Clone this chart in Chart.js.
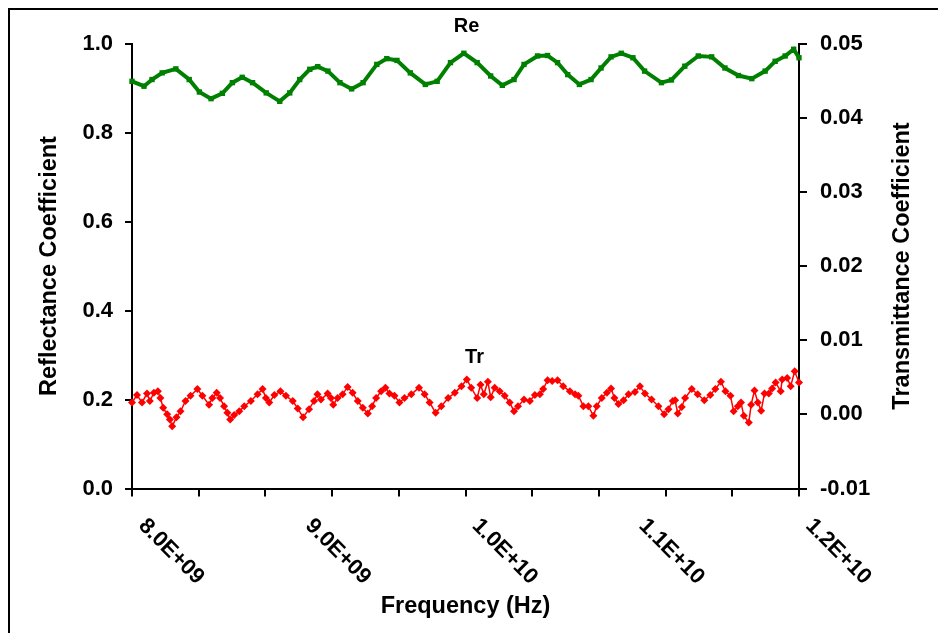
<!DOCTYPE html>
<html>
<head>
<meta charset="utf-8">
<title>Reflectance / Transmittance</title>
<script src="https://cdn.jsdelivr.net/npm/chart.js@4.4.1/dist/chart.umd.min.js"></script>
<style>
  html, body { margin: 0; padding: 0; background: #fff; }
  #wrap { position: relative; width: 938px; height: 633px; overflow: hidden; }
  #frame { position: absolute; left: 8px; top: 8px; width: 1000px; height: 700px; border-left: 2px solid #000; border-top: 2px solid #000; }
  #chart { position: absolute; left: 0; top: 0; }
</style>
</head>
<body>
<div id="wrap">
  <div id="frame"></div>
  <canvas id="chart" width="938" height="633"></canvas>
</div>
<script>
// Frequencies are in GHz, converted to Hz when the datasets are built
const reFreq = [
  8.000, 8.072, 8.120, 8.181, 8.263, 8.343, 8.404, 8.474, 8.542, 8.602,
  8.661, 8.723, 8.805, 8.886, 8.946, 9.006, 9.066, 9.114, 9.175, 9.247,
  9.317, 9.386, 9.468, 9.528, 9.589, 9.669, 9.759, 9.830, 9.910, 9.990,
  10.070, 10.151, 10.221, 10.291, 10.351, 10.432, 10.492, 10.552, 10.613, 10.683,
  10.753, 10.813, 10.873, 10.934, 11.004, 11.074, 11.175, 11.235, 11.315, 11.396,
  11.476, 11.556, 11.637, 11.717, 11.797, 11.857, 11.917, 11.968, 12.000
];
const reValues = [
  0.915, 0.904, 0.919, 0.934, 0.943, 0.919, 0.891, 0.876, 0.888, 0.912,
  0.924, 0.912, 0.889, 0.870, 0.889, 0.919, 0.942, 0.948, 0.938, 0.912,
  0.898, 0.912, 0.953, 0.966, 0.962, 0.934, 0.908, 0.915, 0.957, 0.978,
  0.957, 0.927, 0.906, 0.919, 0.953, 0.972, 0.973, 0.957, 0.930, 0.908,
  0.919, 0.945, 0.970, 0.978, 0.968, 0.938, 0.912, 0.918, 0.949, 0.972,
  0.970, 0.945, 0.928, 0.921, 0.938, 0.960, 0.972, 0.987, 0.968
];

const trFreq = [
  8.000, 8.030, 8.060, 8.090, 8.107, 8.131, 8.155, 8.170, 8.187, 8.211,
  8.227, 8.241, 8.267, 8.291, 8.321, 8.351, 8.392, 8.422, 8.462, 8.482,
  8.508, 8.528, 8.552, 8.572, 8.589, 8.613, 8.643, 8.673, 8.713, 8.753,
  8.783, 8.803, 8.823, 8.854, 8.890, 8.923, 8.964, 8.994, 9.026, 9.062,
  9.092, 9.112, 9.133, 9.173, 9.193, 9.207, 9.233, 9.263, 9.293, 9.323,
  9.354, 9.384, 9.414, 9.440, 9.464, 9.494, 9.520, 9.544, 9.574, 9.604,
  9.634, 9.675, 9.721, 9.755, 9.785, 9.821, 9.855, 9.896, 9.936, 9.976,
  10.008, 10.034, 10.070, 10.090, 10.110, 10.134, 10.151, 10.175, 10.205, 10.235,
  10.265, 10.291, 10.315, 10.351, 10.386, 10.416, 10.446, 10.466, 10.492, 10.520,
  10.552, 10.586, 10.626, 10.657, 10.677, 10.707, 10.737, 10.767, 10.787, 10.817,
  10.848, 10.873, 10.893, 10.917, 10.948, 10.978, 11.016, 11.046, 11.076, 11.116,
  11.157, 11.191, 11.217, 11.243, 11.257, 11.273, 11.297, 11.317, 11.357, 11.392,
  11.432, 11.468, 11.498, 11.532, 11.559, 11.589, 11.608, 11.633, 11.652, 11.669,
  11.699, 11.713, 11.733, 11.753, 11.773, 11.793, 11.819, 11.839, 11.860, 11.890,
  11.899, 11.929, 11.950, 11.974, 12.000
];
const trValues = [
  0.0016, 0.0026, 0.0016, 0.0028, 0.0018, 0.0029, 0.0031, 0.0022, 0.0009, 0.0000,
  -0.0007, -0.0016, -0.0004, 0.0004, 0.0018, 0.0025, 0.0034, 0.0025, 0.0013, 0.0022,
  0.0029, 0.0022, 0.0011, 0.0002, -0.0007, -0.0001, 0.0004, 0.0011, 0.0018, 0.0027,
  0.0034, 0.0022, 0.0016, 0.0026, 0.0031, 0.0025, 0.0018, 0.0008, -0.0004, 0.0007,
  0.0018, 0.0027, 0.0020, 0.0028, 0.0022, 0.0013, 0.0022, 0.0027, 0.0037, 0.0029,
  0.0018, 0.0009, 0.0001, 0.0011, 0.0022, 0.0031, 0.0036, 0.0028, 0.0025, 0.0016,
  0.0022, 0.0027, 0.0036, 0.0027, 0.0016, 0.0002, 0.0011, 0.0022, 0.0029, 0.0038,
  0.0047, 0.0036, 0.0022, 0.0040, 0.0027, 0.0044, 0.0023, 0.0036, 0.0031, 0.0025,
  0.0016, 0.0004, 0.0011, 0.0020, 0.0018, 0.0026, 0.0027, 0.0034, 0.0046, 0.0045,
  0.0046, 0.0038, 0.0031, 0.0027, 0.0025, 0.0011, 0.0011, -0.0002, 0.0011, 0.0022,
  0.0029, 0.0035, 0.0022, 0.0014, 0.0019, 0.0027, 0.0030, 0.0038, 0.0028, 0.0020,
  0.0011, 0.0000, 0.0007, 0.0018, 0.0019, 0.0001, 0.0010, 0.0022, 0.0034, 0.0027,
  0.0019, 0.0026, 0.0034, 0.0044, 0.0031, 0.0025, 0.0004, 0.0011, 0.0016, -0.0002,
  -0.0011, 0.0013, 0.0032, 0.0016, 0.0005, 0.0028, 0.0028, 0.0035, 0.0043, 0.0031,
  0.0047, 0.0049, 0.0038, 0.0058, 0.0043
];

// x axis: tick marks every 0.4 GHz, labels every 1 GHz
const xTickMarks = [8.0, 8.4, 8.8, 9.2, 9.6, 10.0, 10.4, 10.8, 11.2, 11.6, 12.0];
const xLabelValues = [8.0, 9.0, 10.0, 11.0, 12.0];
const xLabels = ['8.0E+09', '9.0E+09', '1.0E+10', '1.1E+10', '1.2E+10'];

const FONT = '"Liberation Sans", Arial, sans-serif';
const tickFont = { family: FONT, size: 22, weight: 'bold' };
const titleFont = { family: FONT, size: 23.5, weight: 'bold' };

function toPoints(freqs, values) {
  return freqs.map((f, i) => ({ x: f * 1e9, y: values[i] }));
}

// rotated x labels (clockwise), right axis title (reads upward) and series captions
const extraText = {
  id: 'extraText',
  afterDraw(chart) {
    const { ctx, chartArea, scales: { x, y } } = chart;
    ctx.save();
    ctx.fillStyle = '#000';
    ctx.font = 'bold 22px ' + FONT;
    ctx.textAlign = 'left';
    ctx.textBaseline = 'middle';
    xLabelValues.forEach((v, i) => {
      ctx.save();
      ctx.translate(x.getPixelForValue(v * 1e9) + 10, x.top + 34);
      ctx.rotate(Math.PI / 4);
      ctx.fillText(xLabels[i], 0, 0);
      ctx.restore();
    });

    ctx.save();
    ctx.font = 'bold 23.5px ' + FONT;
    ctx.textAlign = 'center';
    ctx.translate(903, (chartArea.top + chartArea.bottom) / 2);
    ctx.rotate(-Math.PI / 2);
    ctx.fillText('Transmittance Coefficient', 0, 0);
    ctx.restore();

    ctx.font = 'bold 20px ' + FONT;
    ctx.textAlign = 'center';
    ctx.fillText('Re', x.getPixelForValue(1e10) + 1, chartArea.top - 17);
    ctx.fillText('Tr', x.getPixelForValue(1e10) + 9, y.getPixelForValue(0.295));
    ctx.restore();
  }
};

const ctx = document.getElementById('chart').getContext('2d');
new Chart(ctx, {
  type: 'line',
  data: {
    datasets: [
      {
        label: 'Re',
        data: toPoints(reFreq, reValues),
        yAxisID: 'y',
        borderColor: '#008000',
        backgroundColor: '#008000',
        borderWidth: 4,
        pointStyle: 'rect',
        pointRadius: 3.8,
        pointBorderWidth: 0,
        tension: 0,
        clip: false
      },
      {
        label: 'Tr',
        data: toPoints(trFreq, trValues),
        yAxisID: 'y1',
        borderColor: '#ff0000',
        backgroundColor: '#ff0000',
        borderWidth: 1.5,
        pointStyle: 'rectRot',
        pointRadius: 4,
        pointBorderWidth: 0,
        tension: 0,
        clip: false
      }
    ]
  },
  options: {
    responsive: false,
    animation: false,
    layout: { padding: { top: 43.5, left: 0, right: 0, bottom: 0 } },
    plugins: {
      legend: { display: false },
      tooltip: { enabled: false }
    },
    scales: {
      x: {
        type: 'linear',
        min: 8e9,
        max: 1.2e10,
        afterBuildTicks: (scale) => {
          scale.ticks = xTickMarks.map(v => ({ value: v * 1e9 }));
        },
        afterFit: (scale) => { scale.height = 144.5; },
        grid: { drawOnChartArea: false, drawTicks: true, tickLength: 8, color: '#000', lineWidth: 2 },
        border: { display: true, color: '#000', width: 2 },
        ticks: { display: false },
        title: { display: true, text: 'Frequency (Hz)', color: '#000', font: titleFont, padding: { top: 0, bottom: 11.9 } }
      },
      y: {
        position: 'left',
        min: 0,
        max: 1,
        afterFit: (scale) => { scale.width = 132; },
        ticks: { stepSize: 0.2, color: '#000', font: tickFont, padding: 12, callback: v => v.toFixed(1) },
        grid: { drawOnChartArea: false, drawTicks: true, tickLength: 7, color: '#000', lineWidth: 2 },
        border: { display: true, color: '#000', width: 2 },
        title: { display: true, text: 'Reflectance Coefficient', color: '#000', font: titleFont, padding: { top: 35.9, bottom: 0 } }
      },
      y1: {
        position: 'right',
        min: -0.01,
        max: 0.05,
        afterFit: (scale) => { scale.width = 139; },
        ticks: { stepSize: 0.01, color: '#000', font: tickFont, padding: 13, callback: v => v.toFixed(2) },
        grid: { drawOnChartArea: false, drawTicks: true, tickLength: 8, color: '#000', lineWidth: 2 },
        border: { display: true, color: '#000', width: 2 },
        title: { display: false }
      }
    }
  },
  plugins: [extraText]
});
</script>
</body>
</html>
